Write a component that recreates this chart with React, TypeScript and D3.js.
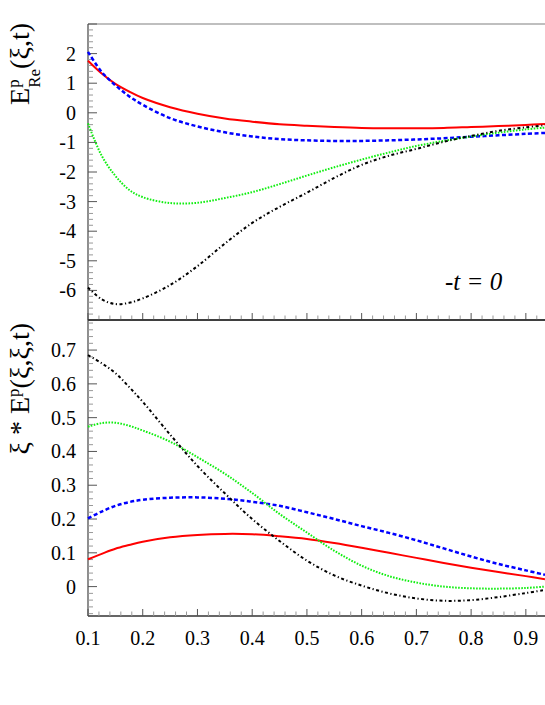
import React, { useEffect, useRef } from 'react';
import * as d3 from 'd3';

// xi grid shared by all curves
const xiValues = [0.1, 0.125, 0.15, 0.175, 0.2, 0.25, 0.3, 0.35, 0.4, 0.45, 0.5, 0.55, 0.6, 0.65, 0.7, 0.75, 0.8, 0.85, 0.9, 0.935];

// upper panel: E^p_Re(xi,t)
const topRed = [1.76, 1.33, 0.98, 0.72, 0.5, 0.19, -0.03, -0.19, -0.3, -0.39, -0.44, -0.48, -0.51, -0.52, -0.52, -0.51, -0.48, -0.45, -0.41, -0.38];
const topBlue = [2.06, 1.38, 0.93, 0.56, 0.27, -0.18, -0.46, -0.66, -0.8, -0.89, -0.93, -0.95, -0.95, -0.93, -0.9, -0.86, -0.81, -0.76, -0.71, -0.68];
const topGreen = [-0.36, -1.45, -2.13, -2.6, -2.85, -3.05, -3.04, -2.88, -2.68, -2.41, -2.12, -1.84, -1.58, -1.34, -1.12, -0.95, -0.8, -0.67, -0.56, -0.5];
const topBlack = [-5.9, -6.3, -6.46, -6.42, -6.27, -5.82, -5.18, -4.42, -3.72, -3.18, -2.7, -2.2, -1.76, -1.45, -1.22, -0.98, -0.78, -0.61, -0.49, -0.42];

// lower panel: xi * E^p(xi,xi,t)
const botRed = [0.081, 0.097, 0.112, 0.123, 0.133, 0.146, 0.153, 0.156, 0.155, 0.149, 0.141, 0.129, 0.115, 0.1, 0.085, 0.07, 0.056, 0.043, 0.031, 0.022];
const botBlue = [0.202, 0.222, 0.239, 0.25, 0.257, 0.263, 0.264, 0.26, 0.251, 0.239, 0.22, 0.2, 0.179, 0.159, 0.137, 0.113, 0.089, 0.067, 0.048, 0.035];
const botGreen = [0.473, 0.484, 0.485, 0.476, 0.462, 0.429, 0.383, 0.334, 0.277, 0.215, 0.16, 0.106, 0.062, 0.031, 0.012, 0.0, -0.005, -0.006, -0.004, 0.0];
const botBlack = [0.685, 0.661, 0.632, 0.591, 0.547, 0.45, 0.357, 0.276, 0.2, 0.135, 0.077, 0.033, 0.003, -0.02, -0.035, -0.042, -0.04, -0.031, -0.019, -0.01];

const xTickLabels = ['0.1', '0.2', '0.3', '0.4', '0.5', '0.6', '0.7', '0.8', '0.9'];
const topTickLabels = ['2', '1', '0', '-1', '-2', '-3', '-4', '-5', '-6'];
const botTickLabels = ['0.7', '0.6', '0.5', '0.4', '0.3', '0.2', '0.1', '0'];

const styles = [
  { color: '#ff0000', width: 2, dash: null },
  { color: '#0000ff', width: 2.5, dash: '4,2.5' },
  { color: '#11ee11', width: 2, dash: '1.6,1.4' },
  { color: '#000000', width: 2, dash: '3,2.5,1.2,2.5' },
];

const FONT = 'Liberation Serif, Times New Roman, DejaVu Serif, serif';

const App = () => {
  const ref = useRef(null);

  useEffect(() => {
    const svg = d3.select(ref.current);
    svg.selectAll('*').remove();

    const left = 88, right = 545;
    const x = d3.scaleLinear().domain([0.1, 0.935]).range([left, right]);
    const yTop = d3.scaleLinear().domain([-7, 3]).range([320, 24]);
    const yBot = d3.scaleLinear().domain([-0.087, 0.789]).range([616, 320]);

    const panel = (y, series, tickLabels, minorStep, topLine) => {
      const [y0, y1] = y.range();
      const g = svg.append('g');

      // frame
      g.append('line').attr('x1', left).attr('x2', right).attr('y1', y0).attr('y2', y0)
        .attr('stroke', '#333').attr('stroke-width', 1.5);
      g.append('line').attr('x1', left).attr('x2', right).attr('y1', y1).attr('y2', y1)
        .attr('stroke', topLine).attr('stroke-width', 1.5);
      g.append('line').attr('x1', left).attr('x2', left).attr('y1', y0).attr('y2', y1)
        .attr('stroke', '#444').attr('stroke-width', 1.2);

      // y ticks
      const [d0, d1] = y.domain();
      const minors = d3.range(Math.ceil(d0 / minorStep - 1e-6), Math.floor(d1 / minorStep + 1e-6) + 1).map(k => k * minorStep);
      minors.forEach(v => {
        const isMajor = Math.abs(v / (minorStep * 5) - Math.round(v / (minorStep * 5))) < 1e-6;
        g.append('line').attr('x1', left).attr('x2', left + (isMajor ? 9 : 5))
          .attr('y1', y(v)).attr('y2', y(v))
          .attr('stroke', isMajor ? '#555' : '#999').attr('stroke-width', 1);
      });
      tickLabels.forEach(t => {
        g.append('text').attr('x', 76).attr('y', y(+t)).attr('dy', '0.35em')
          .attr('text-anchor', 'end').attr('font-family', FONT).attr('font-size', 20)
          .text(t);
      });

      // x ticks
      d3.range(0, 42).map(k => 0.1 + k * 0.02).filter(v => v <= 0.935).forEach((v, k) => {
        const isMajor = k % 5 === 0;
        g.append('line').attr('x1', x(v)).attr('x2', x(v))
          .attr('y1', y0).attr('y2', y0 - (isMajor ? 7 : 4.5))
          .attr('stroke', isMajor ? '#555' : '#999').attr('stroke-width', 1);
      });

      // curves
      const line = d3.line().x((d, i) => x(xiValues[i])).y(d => y(d)).curve(d3.curveCatmullRom.alpha(0.5));
      series.forEach((s, i) => {
        const st = styles[i];
        g.append('path').attr('d', line(s)).attr('fill', 'none')
          .attr('stroke', st.color).attr('stroke-width', st.width)
          .attr('stroke-dasharray', st.dash);
      });
    };

    panel(yTop, [topRed, topBlue, topGreen, topBlack], topTickLabels, 0.2, '#aaa');
    panel(yBot, [botRed, botBlue, botGreen, botBlack], botTickLabels, 0.02, '#333');

    // x tick labels
    xTickLabels.forEach(t => {
      svg.append('text').attr('x', x(+t)).attr('y', 645).attr('text-anchor', 'middle')
        .attr('font-family', FONT).attr('font-size', 20).text(t);
    });

    // -t = 0
    svg.append('text').attr('x', 445).attr('y', 290)
      .attr('font-family', FONT).attr('font-style', 'italic').attr('font-size', 25)
      .text('-t = 0');

    // y titles
    const t1 = svg.append('text').attr('transform', 'translate(29,23) rotate(-90)')
      .attr('text-anchor', 'end').attr('font-family', FONT).attr('font-size', 28);
    t1.append('tspan').text('E');
    t1.append('tspan').attr('dy', -10).attr('font-size', 17).text('p');
    t1.append('tspan').attr('dx', -8.5).attr('dy', 21).attr('font-size', 17).text('Re');
    t1.append('tspan').attr('dy', -11).text('(ξ,t)');

    const t2 = svg.append('text').attr('transform', 'translate(29,323) rotate(-90)')
      .attr('text-anchor', 'end').attr('font-family', FONT).attr('font-size', 28);
    t2.append('tspan').text('ξ * E');
    t2.append('tspan').attr('dy', -10).attr('font-size', 17).text('p');
    t2.append('tspan').attr('dy', 10).text('(ξ,ξ,t)');
  }, []);

  return (
    <svg ref={ref} width={545} height={705}
      style={{ position: 'absolute', left: 0, top: 0, background: '#fff' }} />
  );
};

export default App;
